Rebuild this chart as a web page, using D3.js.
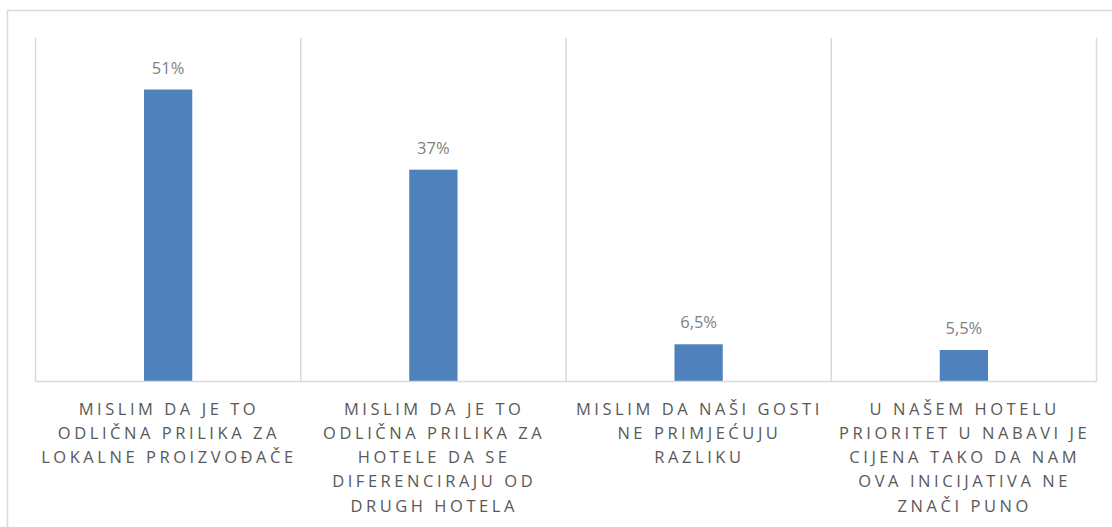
<!DOCTYPE html>
<html>
<head>
<meta charset="utf-8">
<script src="https://cdn.jsdelivr.net/npm/d3@7"></script>
<style>
  html, body { margin: 0; padding: 0; background: #fff; }
  svg { display: block; }
</style>
</head>
<body>
<div id="chart"></div>
<script>
// data
const categories = ['c1', 'c2', 'c3', 'c4'];
const values = [51, 37, 6.5, 5.5];
const valueLabels = ['51%', '37%', '6,5%', '5,5%'];
const tickLabels = [
  ['MISLIM DA JE TO', 'ODLIČNA PRILIKA ZA', 'LOKALNE PROIZVOĐAČE'],
  ['MISLIM DA JE TO', 'ODLIČNA PRILIKA ZA', 'HOTELE DA SE', 'DIFERENCIRAJU OD', 'DRUGH HOTELA'],
  ['MISLIM DA NAŠI GOSTI', 'NE PRIMJEĆUJU', 'RAZLIKU'],
  ['U NAŠEM HOTELU', 'PRIORITET U NABAVI JE', 'CIJENA TAKO DA NAM', 'OVA INICIJATIVA NE', 'ZNAČI PUNO']
];

const W = 1112, H = 527;
const plot = { left: 35.5, right: 1096.5, top: 38, bottom: 381.5 };
const FONT = '"Open Sans", "Liberation Sans", sans-serif';
const GRID = '#d9d9d9';

const svg = d3.select('#chart').append('svg')
  .attr('width', W).attr('height', H);

// chart frame
svg.append('rect')
  .attr('x', 7.5).attr('y', 10.5)
  .attr('width', 1110).attr('height', 530)
  .attr('fill', 'none').attr('stroke', GRID).attr('stroke-width', 1.5);

const x = d3.scaleBand().domain(categories).range([plot.left, plot.right]).padding(0);
const y = d3.scaleLinear().domain([0, 60]).range([plot.bottom, plot.top]);
const barW = x.bandwidth() * 0.182;

// vertical category gridlines
const edges = categories.map(c => x(c)).concat([x(categories[categories.length - 1]) + x.bandwidth()]);
svg.append('g').selectAll('line').data(edges).join('line')
  .attr('x1', d => d).attr('x2', d => d)
  .attr('y1', plot.top).attr('y2', plot.bottom)
  .attr('stroke', GRID).attr('stroke-width', 1.5);

// bars
svg.append('g').selectAll('rect').data(values).join('rect')
  .attr('x', (d, i) => x(categories[i]) + x.bandwidth() / 2 - barW / 2)
  .attr('width', barW)
  .attr('y', d => y(d))
  .attr('height', d => y(0) - y(d))
  .attr('fill', '#4f81bd');

// baseline
svg.append('line')
  .attr('x1', plot.left).attr('x2', plot.right)
  .attr('y1', y(0)).attr('y2', y(0))
  .attr('stroke', GRID).attr('stroke-width', 1.5);

// value labels
svg.append('g').selectAll('text').data(values).join('text')
  .attr('x', (d, i) => x(categories[i]) + x.bandwidth() / 2)
  .attr('y', d => y(d) - 16)
  .attr('text-anchor', 'middle')
  .attr('font-family', FONT)
  .attr('font-size', 16.5)
  .attr('fill', '#7f7f7f')
  .text((d, i) => valueLabels[i]);

// category labels
const lab = svg.append('g').selectAll('text').data(tickLabels).join('text')
  .attr('text-anchor', 'middle')
  .attr('font-family', FONT)
  .attr('font-size', 16.5)
  .attr('letter-spacing', 3.55)
  .attr('fill', '#595959');
lab.each(function (lines, i) {
  const cx = x(categories[i]) + x.bandwidth() / 2 + 0.8;
  d3.select(this).selectAll('tspan').data(lines).join('tspan')
    .attr('x', cx)
    .attr('y', (d, j) => 414.5 + j * 24.3)
    .text(d => d);
});
</script>
</body>
</html>
